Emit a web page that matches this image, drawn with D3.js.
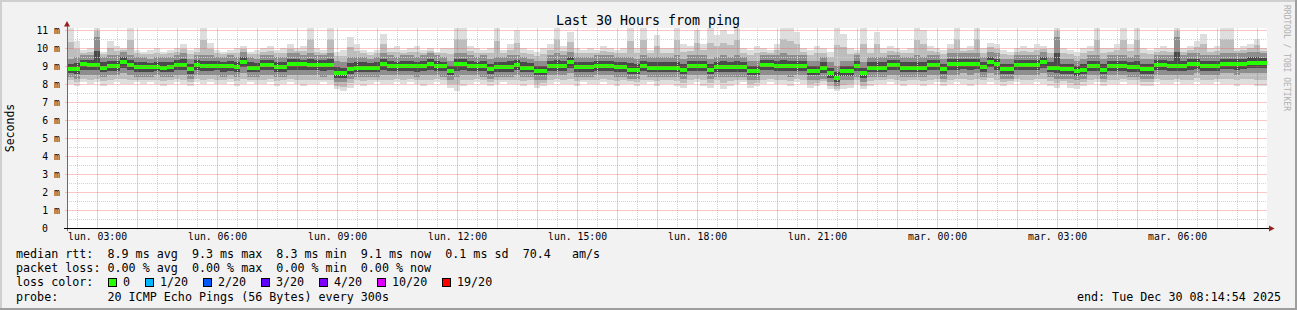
<!DOCTYPE html>
<html>
<head>
<meta charset="utf-8">
<script src="https://cdnjs.cloudflare.com/ajax/libs/d3/7.8.5/d3.min.js"></script>
<style>
body { margin: 0; background: #f2f2f2; }
svg { display: block; }
text { font-family: "DejaVu Sans Mono", monospace; white-space: pre; fill: #000; }
</style>
</head>
<body>
<svg id="chart" width="1297" height="310"></svg>
<script>
// 30 hours of 10 minute steps, values in ms
var median = [
  8.85,8.85,9.1,9.05,9.05,8.9,9.0,9.0,9.2,9.05,
  8.95,8.93,8.92,8.94,8.9,8.93,9.05,9.05,8.85,9.05,
  9.0,9.0,9.02,8.98,9.0,8.93,9.25,8.9,8.9,9.05,
  9.05,8.93,8.93,9.1,9.1,9.1,9.05,9.05,9.05,9.05,
  8.6,8.6,8.85,8.9,8.9,8.9,8.9,9.1,9.0,9.0,
  9.0,9.0,8.98,9.0,9.1,9.0,9.0,8.75,9.1,9.1,
  9.0,9.0,9.0,8.85,8.95,8.95,8.95,9.05,8.9,8.9,
  8.75,8.75,9.0,9.0,9.0,9.2,8.93,8.93,8.95,9.0,
  9.0,9.0,8.93,8.93,8.8,8.8,9.0,8.9,8.9,8.9,
  8.9,8.9,8.8,9.0,9.0,9.0,8.8,8.95,8.95,8.95,
  8.95,8.95,8.75,8.75,9.05,9.05,9.0,9.0,9.0,9.0,
  9.0,8.75,8.75,8.9,8.6,8.35,8.7,8.7,9.0,8.6,
  8.9,8.9,8.9,9.05,9.05,8.9,8.9,8.9,8.9,9.05,
  9.05,8.85,9.1,9.1,9.1,9.1,9.1,8.93,9.25,9.1,
  8.85,8.85,9.05,9.05,9.05,9.05,9.2,8.9,8.9,8.85,
  8.85,8.7,8.8,9.0,9.0,8.8,9.0,9.0,9.0,8.95,
  8.95,8.85,8.85,9.05,9.05,9.0,9.0,9.0,9.1,9.1,
  9.0,9.0,9.0,9.1,9.1,9.1,9.1,9.15,9.15,9.15
];
var pingMax = [
  11.3,10.4,9.9,10.0,11.3,9.8,10.4,10.1,10.0,11.3,
  9.9,9.8,9.9,10.0,9.8,9.9,10.0,10.2,9.9,10.0,
  11.3,10.3,9.9,9.8,9.9,10.0,10.1,9.8,9.9,10.0,
  10.1,9.9,10.0,10.2,10.0,10.1,11.3,10.0,9.9,11.3,
  9.8,9.9,10.6,10.2,9.9,9.8,9.9,10.8,10.0,10.1,
  9.9,10.0,10.1,9.9,10.0,9.8,10.0,10.0,11.3,11.3,
  10.1,10.0,9.9,10.0,11.3,9.9,10.2,11.0,10.0,9.9,
  9.8,10.0,10.2,11.3,10.1,10.9,10.0,9.9,10.0,9.9,
  10.1,10.0,9.9,10.0,11.3,10.0,11.3,9.9,10.7,10.0,
  10.0,11.3,10.2,10.1,11.0,10.2,11.2,10.7,11.0,10.8,
  11.3,10.0,9.9,10.1,10.0,9.9,10.2,11.3,11.2,10.9,
  10.0,9.9,10.1,10.0,9.8,11.3,10.8,10.0,9.9,11.3,
  10.0,10.9,10.0,10.1,10.0,9.9,10.0,11.3,11.0,10.1,
  10.0,9.9,10.2,11.3,10.0,10.1,11.3,10.0,10.3,10.2,
  9.9,9.8,10.0,10.1,10.0,10.2,10.1,10.0,11.3,10.0,
  9.9,9.8,10.0,10.1,11.3,10.0,10.0,10.2,11.3,10.2,
  11.3,10.0,9.9,10.0,10.1,10.0,11.3,10.0,10.1,10.4,
  10.8,10.0,10.1,11.3,11.3,10.0,10.1,10.2,10.5,10.0
];
var pingMin = [
  8.0,7.9,8.1,8.0,8.1,7.9,8.0,8.1,8.0,8.0,
  8.1,8.0,8.1,8.0,7.9,8.0,8.1,8.0,7.9,8.1,
  8.0,8.1,8.0,8.0,8.1,7.9,8.0,8.1,8.0,8.0,
  8.1,7.9,8.0,8.1,8.0,7.9,8.0,8.0,8.1,8.0,
  7.7,7.6,7.8,8.0,7.9,8.0,8.1,8.0,8.0,8.1,
  8.0,8.1,8.0,7.9,8.0,8.1,8.0,7.8,7.6,7.9,
  8.0,8.1,8.0,7.9,8.0,8.1,8.0,8.0,7.9,8.0,
  7.8,7.9,8.0,8.1,8.0,8.0,7.9,8.1,8.0,8.0,
  8.1,8.0,7.9,8.0,8.0,7.9,8.0,8.1,7.9,8.0,
  8.0,7.9,7.8,8.0,8.1,7.9,7.8,8.0,7.7,7.9,
  8.0,8.1,7.8,7.9,8.0,8.1,8.0,8.0,7.9,8.1,
  8.0,7.8,7.9,8.0,7.7,7.6,7.7,7.8,8.0,7.7,
  7.9,8.0,8.0,8.1,8.0,7.9,8.0,8.0,7.9,8.0,
  8.1,7.9,8.0,8.1,8.0,7.9,8.0,8.0,8.1,8.0,
  7.9,8.0,8.1,8.0,8.0,8.1,8.0,7.9,7.8,8.0,
  7.8,7.7,7.9,8.0,8.1,7.9,8.0,8.0,8.1,8.0,
  8.0,7.9,7.9,8.1,8.0,8.0,8.1,8.0,8.0,8.1,
  8.0,8.0,8.1,8.0,8.0,7.9,8.0,8.0,7.9,7.9
];
var pingQ1 = [
  8.4,8.3,8.5,8.5,8.5,8.4,8.5,8.5,8.6,8.5,
  8.4,8.4,8.4,8.5,8.4,8.4,8.5,8.5,8.3,8.5,
  8.5,8.5,8.5,8.4,8.5,8.4,8.6,8.4,8.4,8.5,
  8.5,8.4,8.4,8.5,8.5,8.5,8.5,8.5,8.4,8.5,
  8.1,8.1,8.3,8.4,8.4,8.4,8.4,8.5,8.5,8.5,
  8.5,8.5,8.4,8.5,8.5,8.5,8.4,8.2,8.4,8.5,
  8.5,8.5,8.4,8.3,8.4,8.4,8.4,8.5,8.4,8.4,
  8.2,8.2,8.5,8.5,8.5,8.6,8.4,8.4,8.4,8.5,
  8.5,8.5,8.4,8.4,8.3,8.3,8.5,8.4,8.4,8.4,
  8.4,8.4,8.3,8.5,8.5,8.5,8.3,8.4,8.4,8.4,
  8.4,8.4,8.2,8.2,8.5,8.5,8.5,8.5,8.4,8.5,
  8.5,8.2,8.2,8.3,8.1,7.9,8.2,8.2,8.4,8.1,
  8.4,8.4,8.4,8.5,8.5,8.4,8.4,8.4,8.4,8.5,
  8.5,8.3,8.5,8.5,8.6,8.5,8.6,8.4,8.6,8.5,
  8.3,8.3,8.5,8.5,8.5,8.5,8.6,8.4,8.3,8.3,
  8.3,8.2,8.3,8.5,8.5,8.3,8.5,8.5,8.5,8.4,
  8.4,8.3,8.3,8.5,8.5,8.5,8.5,8.5,8.5,8.6,
  8.5,8.5,8.5,8.6,8.6,8.5,8.6,8.6,8.6,8.6
];
var pingQ3 = [
  9.4,9.5,9.6,9.6,10.6,9.5,9.6,9.6,9.8,9.6,
  9.5,9.5,9.4,9.5,9.5,9.5,9.6,9.7,9.4,9.6,
  9.6,9.6,9.5,9.5,9.6,9.5,9.8,9.5,9.4,9.6,
  9.6,9.5,9.5,9.7,9.7,9.6,9.7,9.6,9.6,9.7,
  9.3,9.2,9.5,9.5,9.5,9.4,9.5,9.7,9.6,9.5,
  9.6,9.6,9.5,9.6,9.7,9.6,9.5,9.3,9.7,9.7,
  9.6,9.5,9.6,9.4,9.5,9.5,9.6,9.6,9.5,9.4,
  9.3,9.3,9.6,9.7,9.6,9.8,9.5,9.5,9.5,9.6,
  9.6,9.6,9.5,9.5,9.5,9.4,9.6,9.5,9.5,9.5,
  9.5,9.6,9.4,9.6,9.6,9.6,9.4,9.5,9.6,9.5,
  9.6,9.5,9.3,9.3,9.6,9.6,9.6,9.7,9.6,9.6,
  9.6,9.3,9.3,9.5,9.2,9.0,9.3,9.3,9.6,9.2,
  9.5,9.5,9.5,9.6,9.6,9.5,9.5,9.6,9.5,9.6,
  9.6,9.4,9.7,9.7,9.7,9.7,9.7,9.5,9.8,9.7,
  9.4,9.4,9.6,9.6,9.6,9.6,9.8,9.5,10.6,9.4,
  9.4,9.3,9.4,9.6,9.6,9.4,9.6,9.6,9.6,9.5,
  9.6,9.4,9.4,9.6,9.6,9.6,10.6,9.6,9.7,9.7,
  9.6,9.6,9.6,9.7,9.7,9.7,9.7,9.8,9.8,9.7
];

var yTicks = [0, 1, 2, 3, 4, 5, 6, 7, 8, 9, 10, 11];
var dayNames = ["dim.", "lun.", "mar.", "mer.", "jeu.", "ven.", "sam."];
var lossLabels = ["0", "1/20", "2/20", "3/20", "4/20", "10/20", "19/20"];
var lossColors = ["#26ff00", "#00b8ff", "#0059ff", "#5e00ff", "#7e00ff", "#dd00ff", "#ff0000"];
var statLines = [
  "median rtt:  8.9 ms avg  9.3 ms max  8.3 ms min  9.1 ms now  0.1 ms sd  70.4   am/s",
  "packet loss: 0.00 % avg  0.00 % max  0.00 % min  0.00 % now",
  "loss color:",
  "probe:       20 ICMP Echo Pings (56 Bytes) every 300s"
];

var svg = d3.select("#chart"),
  width = +svg.attr("width"),
  height = +svg.attr("height"),
  plotL = 67, plotR = 1267, plotT = 28, plotB = 228;

var start = new Date(2025, 11, 29, 2, 14, 54),
  end = new Date(2025, 11, 30, 8, 14, 54);

var x = d3.scaleTime().domain([start, end]).range([plotL, plotR]);
var y = d3.scaleLinear().domain([0, (plotB - plotT) / 18]).range([plotB, plotT]);

var steps = d3.range(median.length + 1).map(function(i) {
  return d3.timeMinute.offset(start, i * 10);
});

function mid(a, b) {
  return a.map(function(v, i) { return (v + b[i]) / 2; });
}

// background + 3d frame
svg.append("rect").attr("width", width).attr("height", height).attr("fill", "#f2f2f2");
svg.append("rect").attr("x", 0).attr("y", 0).attr("width", width).attr("height", 2).attr("fill", "#cfcfcf");
svg.append("rect").attr("x", 0).attr("y", 0).attr("width", 2).attr("height", height).attr("fill", "#cfcfcf");
svg.append("rect").attr("x", 0).attr("y", height - 2).attr("width", width).attr("height", 2).attr("fill", "#9e9e9e");
svg.append("rect").attr("x", width - 2).attr("y", 0).attr("width", 2).attr("height", height).attr("fill", "#9e9e9e");

svg.append("rect").attr("x", plotL).attr("y", plotT).attr("width", plotR - plotL).attr("height", plotB - plotT).attr("fill", "#fff");

svg.append("clipPath").attr("id", "plot").append("rect")
  .attr("x", plotL).attr("y", plotT).attr("width", plotR - plotL).attr("height", plotB - plotT);

var plot = svg.append("g").attr("clip-path", "url(#plot)").attr("shape-rendering", "crispEdges");

// smoke, lightest (outer) to darkest (inner)
var bands = [
  [pingMin, pingMax, "#dedede"],
  [mid(pingMin, pingQ1), mid(pingMax, pingQ3), "#bdbdbd"],
  [pingQ1, pingQ3, "#8e8e8e"],
  [mid(pingQ1, median), mid(pingQ3, median), "#4a4a4a"]
];

bands.forEach(function(b) {
  plot.append("g").selectAll("rect").data(d3.range(median.length)).enter().append("rect")
    .attr("x", function(i) { return x(steps[i]); })
    .attr("width", function(i) { return x(steps[i + 1]) - x(steps[i]); })
    .attr("y", function(i) { return y(b[1][i]); })
    .attr("height", function(i) { return y(b[0][i]) - y(b[1][i]); })
    .attr("fill", b[2]);
});

// median, coloured by loss (all 0 here)
plot.append("g").selectAll("rect").data(median).enter().append("rect")
  .attr("x", function(d, i) { return x(steps[i]); })
  .attr("width", function(d, i) { return x(steps[i + 1]) - x(steps[i]); })
  .attr("y", function(d) { return Math.round(y(d)) - 2; })
  .attr("height", 4)
  .attr("fill", lossColors[0]);

// grid, drawn over the smoke
var halfHours = d3.timeMinute.every(30).range(start, end).filter(function(d) { return d.getMinutes() != 0; });
var hours = d3.timeHour.every(1).range(start, end);
var yMinor = d3.range(0.5, 11.1, 1);
var yMajor = yTicks.slice(1);

function px(v) { return Math.round(v) + 0.5; }

function vGrid(data, color, y2, dash) {
  svg.append("g").selectAll("line").data(data).enter().append("line")
    .attr("x1", function(d) { return px(x(d)); })
    .attr("x2", function(d) { return px(x(d)); })
    .attr("y1", plotT).attr("y2", y2)
    .attr("stroke", color).attr("stroke-width", 1).attr("stroke-dasharray", dash);
}

function hGrid(data, color, x1, dash) {
  svg.append("g").selectAll("line").data(data).enter().append("line")
    .attr("x1", x1).attr("x2", plotR)
    .attr("y1", function(d) { return px(y(d)); })
    .attr("y2", function(d) { return px(y(d)); })
    .attr("stroke", color).attr("stroke-width", 1).attr("stroke-dasharray", dash);
}

vGrid(halfHours, "#d2d2d2", plotB, "1 1");
hGrid(yMinor, "#d2d2d2", plotL, "1 1");
vGrid(hours, "rgba(240,90,90,0.34)", plotB + 2, null);
hGrid(yMajor, "rgba(240,90,90,0.34)", plotL - 2, null);

// axes
svg.append("line").attr("x1", plotL + 0.5).attr("x2", plotL + 0.5).attr("y1", plotB + 3).attr("y2", plotT - 3)
  .attr("stroke", "#6a6a6a").attr("shape-rendering", "crispEdges");
svg.append("line").attr("x1", plotL - 3).attr("x2", plotR + 3).attr("y1", plotB + 0.5).attr("y2", plotB + 0.5)
  .attr("stroke", "#000").attr("shape-rendering", "crispEdges");
svg.append("path").attr("d", "M64,26.5L70,26.5L67,21Z").attr("fill", "#9a2020");
svg.append("path").attr("d", "M1269,225.5L1269,231.5L1274.5,228.5Z").attr("fill", "#9a2020");

var xAxis = svg.append("g").attr("transform", "translate(0," + plotB + ")")
  .call(d3.axisBottom(x).ticks(d3.timeHour.every(3)).tickSize(0).tickPadding(5)
    .tickFormat(function(d) { return dayNames[d.getDay()] + " " + d3.timeFormat("%H:%M")(d); }))
  .attr("font-size", 9.8);
xAxis.select(".domain").remove();

var yAxis = svg.append("g").attr("transform", "translate(" + plotL + ",0)")
  .call(d3.axisLeft(y).tickValues(yTicks).tickSize(0).tickPadding(7)
    .tickFormat(function(d) { return d === 0 ? "0" : d + " m"; }))
  .attr("font-size", 9.8);
yAxis.select(".domain").remove();
yAxis.selectAll("text").filter(function(d) { return d === 0; }).attr("dx", -12);

// titles
svg.append("text").attr("x", 648).attr("y", 24.5).attr("text-anchor", "middle")
  .attr("font-size", 13.3).text("Last 30 Hours from ping");
svg.append("text").attr("transform", "translate(14,128) rotate(-90)").attr("text-anchor", "middle")
  .attr("font-size", 11.5).text("Seconds");
svg.append("text").attr("transform", "translate(1284,5) rotate(90)")
  .attr("font-size", 8).style("fill", "#b0b0b0").text("RRDTOOL / TOBI OETIKER");

// legend
svg.append("g").selectAll("text").data(statLines).enter().append("text")
  .attr("x", 16)
  .attr("y", function(d, i) { return 258 + i * 14.2; })
  .attr("font-size", 11.7)
  .text(function(d) { return d; });

var lx = 108, legend = svg.append("g");
lossLabels.forEach(function(l, i) {
  legend.append("rect").attr("x", lx + 0.5).attr("y", 278.5).attr("width", 8).attr("height", 8)
    .attr("fill", lossColors[i]).attr("stroke", "#000").attr("shape-rendering", "crispEdges");
  legend.append("text").attr("x", lx + 15).attr("y", 286.4).attr("font-size", 11.7).text(l);
  lx = lx + 15 + l.length * 7 + 15;
});

svg.append("text").attr("x", 1281).attr("y", 300.6).attr("text-anchor", "end")
  .attr("font-size", 11.7).text("end: Tue Dec 30 08:14:54 2025");
</script>
</body>
</html>
